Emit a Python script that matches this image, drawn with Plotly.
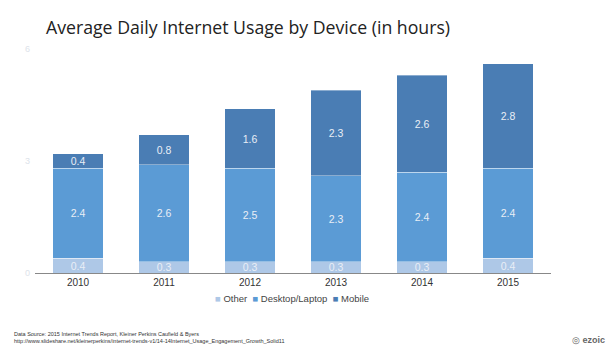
import plotly.graph_objects as go

years = ["2010", "2011", "2012", "2013", "2014", "2015"]
other = [0.4, 0.3, 0.3, 0.3, 0.3, 0.4]
desktop = [2.4, 2.6, 2.5, 2.3, 2.4, 2.4]
mobile = [0.4, 0.8, 1.6, 2.3, 2.6, 2.8]
series_names = ["Other", "Desktop/Laptop", "Mobile"]
colors = ["#aec8e7", "#5b9bd5", "#4a7db4"]
y_ticks = [0, 3, 6]

fig = go.Figure()
for name, vals, col in zip(series_names, [other, desktop, mobile], colors):
    fig.add_trace(go.Bar(
        x=years, y=vals, name=name,
        marker=dict(color=col, line=dict(color="rgba(255,255,255,0.6)", width=0.6)),
        text=[f"{v:.1f}" for v in vals],
        textposition="inside", insidetextanchor="middle", textangle=0,
        textfont=dict(family="Liberation Sans, Arial, sans-serif", size=10.5, color="#e9eef6"),
        constraintext="none",
    ))

fig.update_layout(
    barmode="stack",
    bargap=0.41,
    width=612, height=360,
    margin=dict(l=35, r=61, t=49, b=87, autoexpand=False),
    paper_bgcolor="white", plot_bgcolor="white",
    showlegend=False,
    xaxis=dict(showline=True, linecolor="#888888", linewidth=1, ticks="",
               tickfont=dict(family="Liberation Sans, Arial, sans-serif", size=10, color="#333333"),
               range=[-0.5, 5.5]),
    yaxis=dict(range=[0, 6], tickvals=y_ticks, showgrid=False, zeroline=False,
               tickfont=dict(family="Liberation Sans, Arial, sans-serif", size=9, color="#dde3ea"),
               ticklabelstandoff=4),
    title=dict(text="Average Daily Internet Usage by Device (in hours)",
               x=46/612, xanchor="left", y=1 - 28/360, yanchor="middle",
               font=dict(family="Open Sans, sans-serif", size=17.7, color="#222222")),
)

legend_text = "&nbsp;&nbsp;".join(
    f"<span style='color:{c}'>■</span> {n}" for n, c in zip(series_names, colors))
fig.add_annotation(
    text=legend_text, xref="paper", yref="paper", x=(292-35)/516, y=-(298-273)/224,
    xanchor="center", yanchor="middle", showarrow=False,
    font=dict(family="Liberation Sans, Arial, sans-serif", size=9.5, color="#444444"))

fig.add_annotation(
    text="Data Source: 2015 Internet Trends Report, Kleiner Perkins Caufield &amp; Byers<br>http://www.slideshare.net/kleinerperkins/internet-trends-v1/14-14Internet_Usage_Engagement_Growth_Solid11",
    xref="paper", yref="paper", x=(12-35)/516, y=-(329-273)/224, xanchor="left", yanchor="top",
    showarrow=False, align="left",
    font=dict(family="Liberation Sans, Arial, sans-serif", size=5.5, color="#333333"))
fig.add_annotation(
    text="◎ <b>ezoic</b>", xref="paper", yref="paper", x=(607-35)/516, y=-(340-273)/224,
    xanchor="right", yanchor="middle",
    showarrow=False, font=dict(family="Liberation Sans, Arial, sans-serif", size=9, color="#666666"))

fig.write_html("out.html", config={"displayModeBar": False},
               post_script="document.body.style.margin='0';")
